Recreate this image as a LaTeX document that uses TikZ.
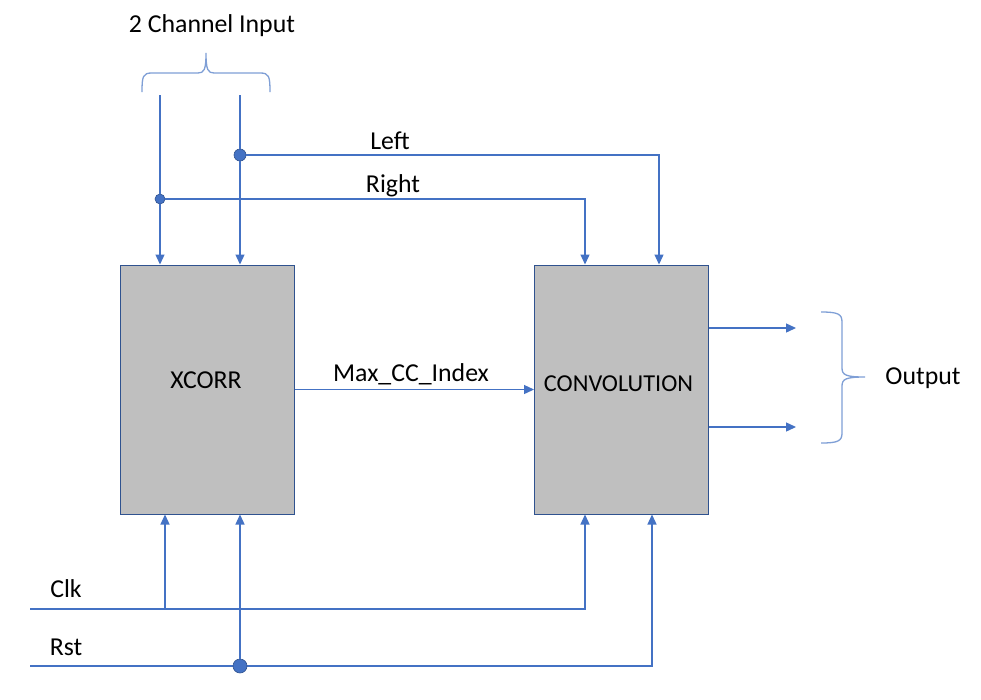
\documentclass[tikz,border=0pt]{standalone}
\usepackage{fontspec}
\setmainfont{Carlito}
\usetikzlibrary{arrows.meta}
\definecolor{lineblue}{HTML}{4472C4}
\definecolor{boxgray}{HTML}{BFBFBF}
\definecolor{boxedge}{HTML}{2F528F}
\definecolor{braceblue}{HTML}{7F9FD6}
\begin{document}
\begin{tikzpicture}[x=1pt,y=-1pt,
  wire/.style={draw=lineblue, line width=1.3pt},
  arr/.style={wire, -{Triangle[length=10pt,width=9pt]}},
  block/.style={draw=boxedge, fill=boxgray, line width=1pt, minimum width=174pt, minimum height=249pt, inner sep=0pt},
  lbl/.style={font=\fontsize{25.8}{30}\selectfont, inner sep=0pt, text=black},
  dot/.style={circle, fill=lineblue, draw=boxedge, line width=0.6pt, inner sep=0pt},
  bracepath/.style={draw=braceblue, line width=1.3pt}]
\useasboundingbox (0,0) rectangle (981,699);
\fill[white] (0,0) rectangle (981,699);

% blocks
\node[block] (xcorr) at (207,389.5) {};
\node[block] (conv) at (621.5,389.5) {};
\node[lbl] (xcorrlbl) at (206,380) {XCORR};
\node[lbl, font=\fontsize{24.3}{29}\selectfont] (convlbl) at (618.5,384) {CONVOLUTION};

% input brace
\node[lbl] (inlbl) at (212,26) {2 Channel Input};
\draw[bracepath] (142,92) .. controls (142,76) and (143,73) .. (152,73) -- (198,73) .. controls (204,73) and (206,70) .. (206,53)
  .. controls (206,70) and (208,73) .. (214,73) -- (260,73) .. controls (269,73) and (270,76) .. (270,92);

% inputs
\coordinate (inR) at (160,95);
\coordinate (inL) at (240,95);
\node[dot, minimum size=12pt] (dL) at (240,155) {};
\node[dot, minimum size=10pt] (dR) at (160,199) {};
\draw[wire] (inR) -- (dR);
\draw[wire] (inL) -- (dL);
\draw[arr] (dR) -- (dR |- xcorr.north);
\draw[arr] (dL) -- (dL |- xcorr.north);
\draw[arr] (dL) -| ([xshift=37.5pt]conv.north);
\draw[arr] (dR) -| ([xshift=-36.5pt]conv.north);
\node[lbl] (leftlbl) at (390,141) {Left};
\node[lbl] (rightlbl) at (393,186) {Right};

% xcorr to conv
\draw[arr] (xcorr.east) -- (conv.west);
\node[lbl] (maxlbl) at (411,374) {Max\_CC\_Index};

% outputs
\coordinate (o1) at (796,328);
\coordinate (o2) at (796,427);
\draw[arr] (conv.east |- o1) -- (o1);
\draw[arr] (conv.east |- o2) -- (o2);
\draw[bracepath] (821,312) .. controls (838,312) and (842,314) .. (842,322) -- (842,368) .. controls (842,375) and (846,377) .. (865,377)
  .. controls (846,377) and (842,379) .. (842,386) -- (842,433) .. controls (842,441) and (838,443) .. (821,443);
\node[lbl] (outlbl) at (923,378) {Output};

% clock and reset
\coordinate (clk) at (30,609);
\coordinate (clkj) at (165,609);
\coordinate (rst) at (30,666);
\draw[arr] (clk) -| ([xshift=-36.5pt]conv.south);
\draw[arr] (clkj) -- (clkj |- xcorr.south);
\draw[arr] (rst) -| ([xshift=30.5pt]conv.south);
\node[dot, minimum size=14pt] (dRst) at (240,666) {};
\draw[arr] (dRst) -- (dRst |- xcorr.south);
\node[lbl] (clklbl) at (66,589) {Clk};
\node[lbl] (rstlbl) at (66,647) {Rst};
\end{tikzpicture}
\end{document}
